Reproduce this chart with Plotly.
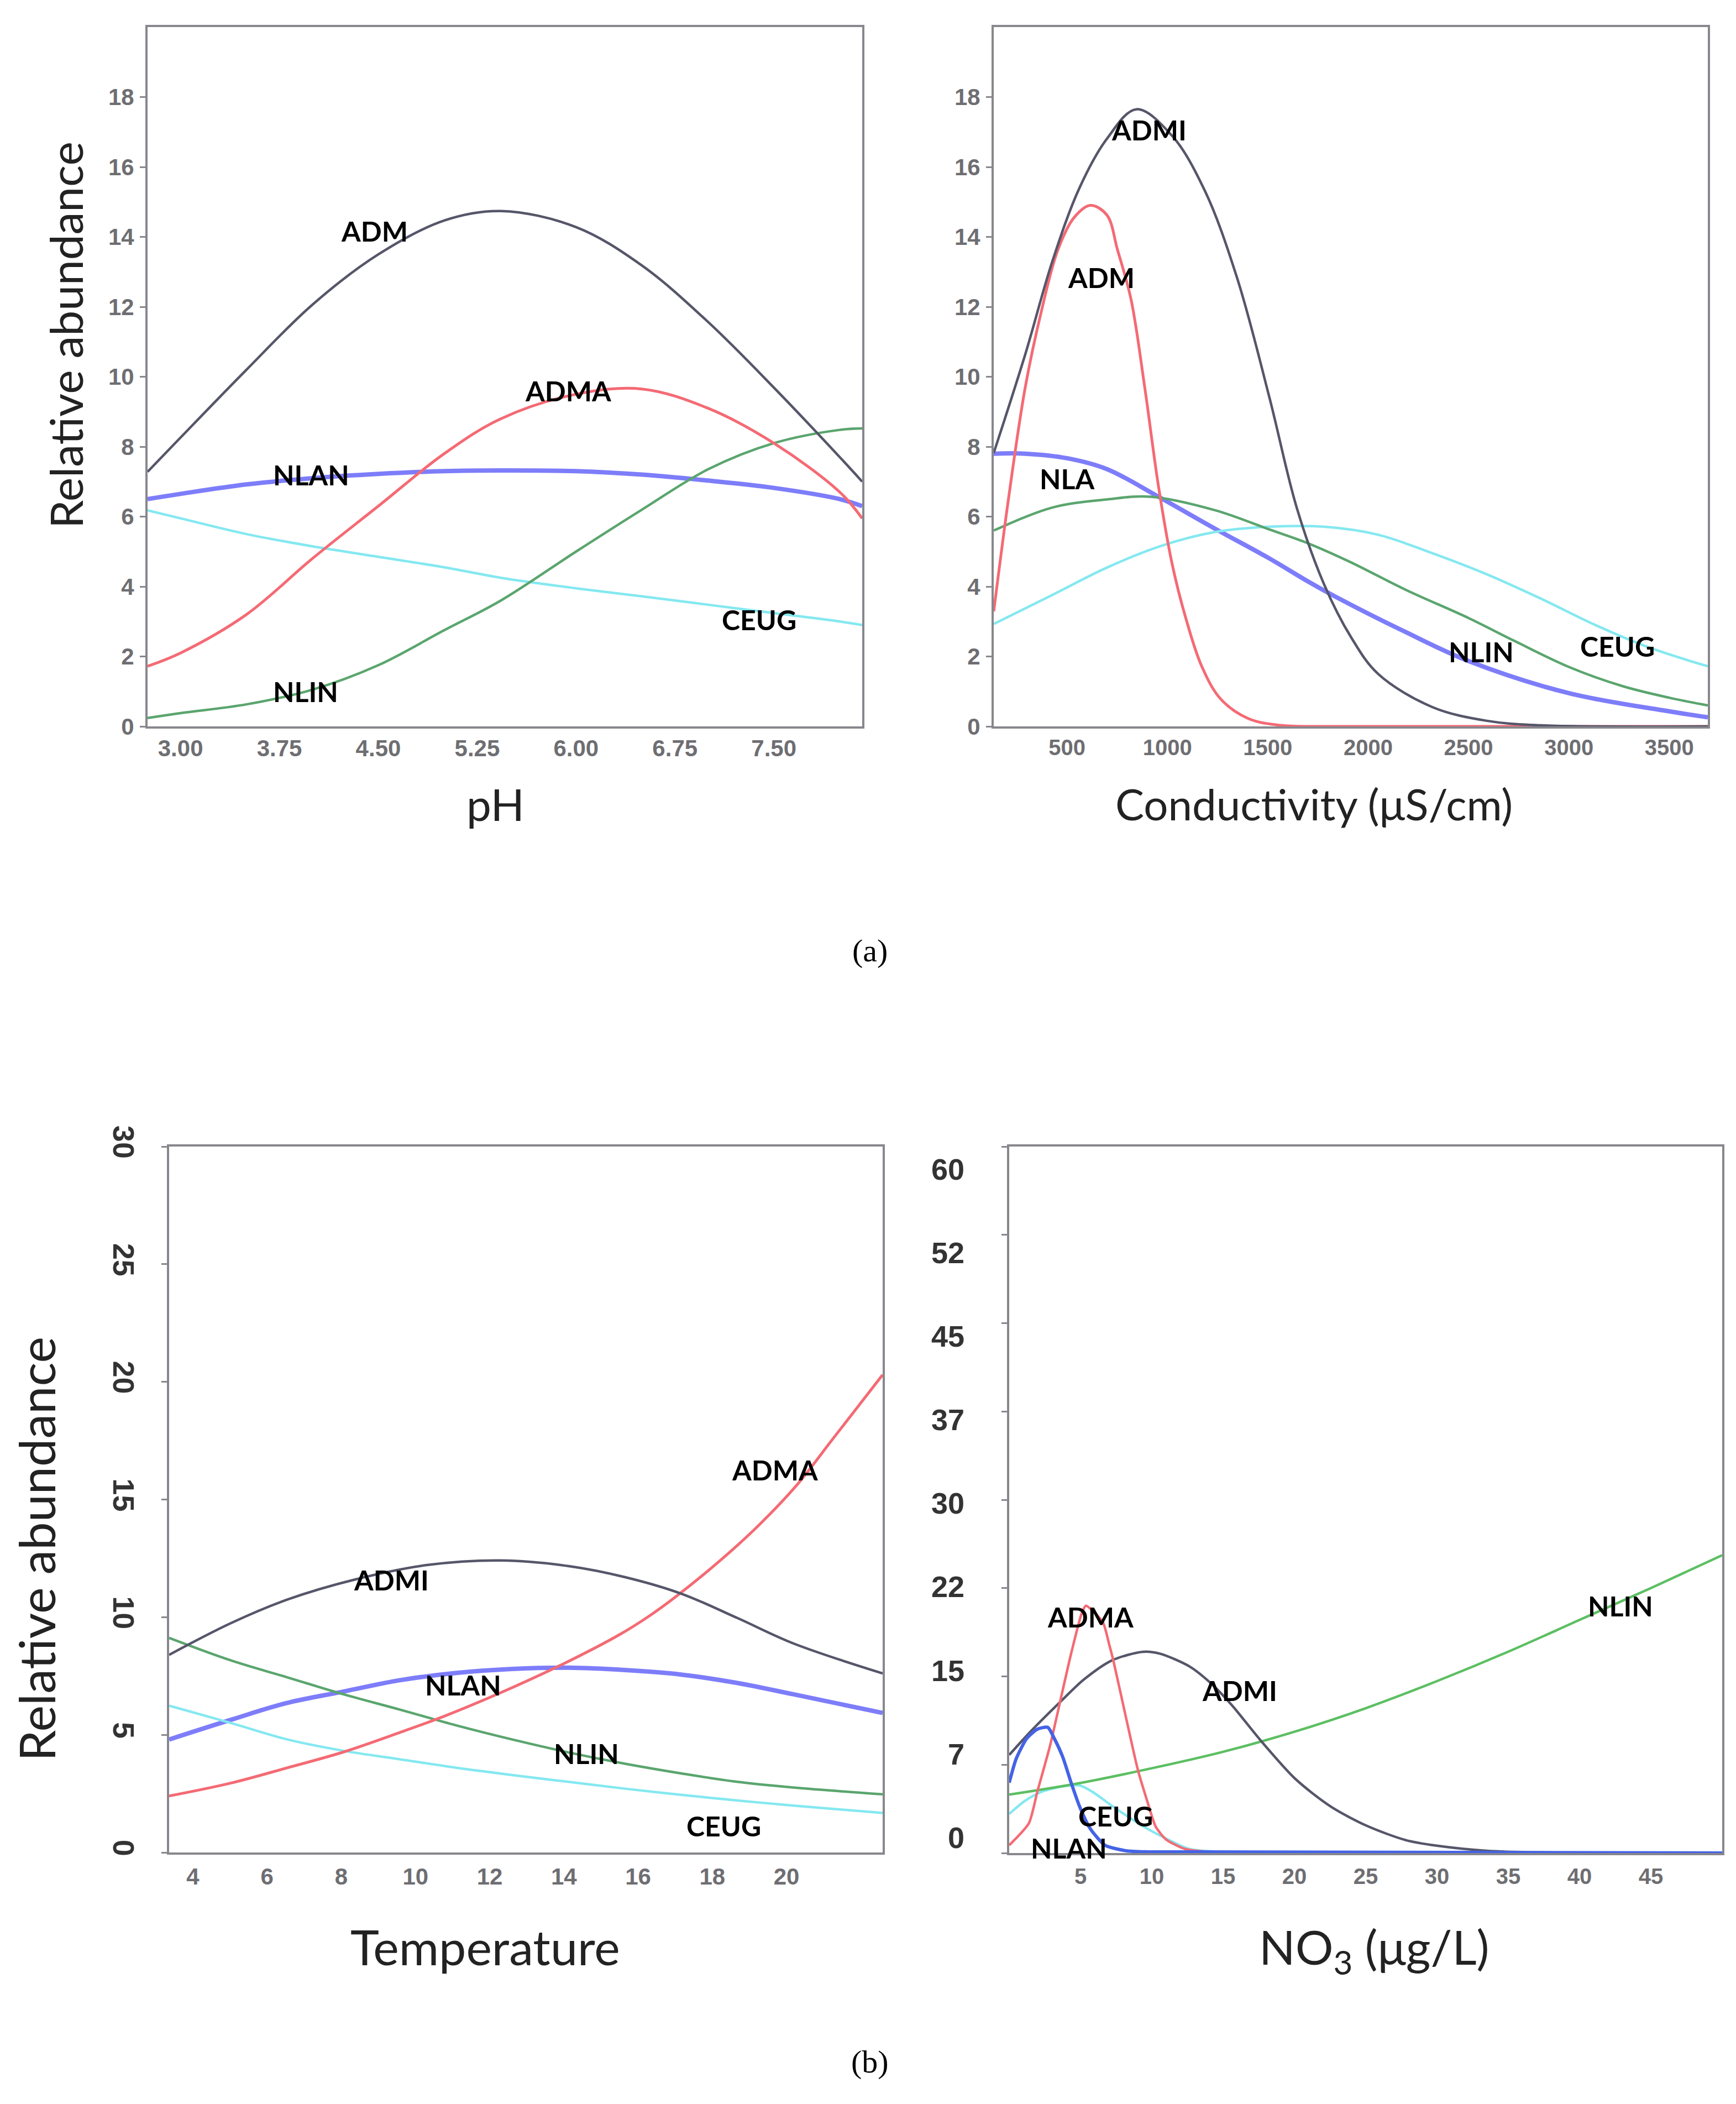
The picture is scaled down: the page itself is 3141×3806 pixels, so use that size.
import plotly.graph_objects as go

W, H = 3141, 3806

# ======================= DATA =======================
# ---- (a) left: pH ----
ph_x    = [2.75, 3.0, 3.5, 4.0, 4.5, 5.0, 5.43, 6.0, 6.5, 7.0, 7.5, 8.0, 8.17]
ph_adm  = [7.28, 8.26, 10.2, 12.06, 13.5, 14.47, 14.74, 14.28, 13.18, 11.57, 9.69, 7.7, 7.0]
ph_adma = [1.72, 2.1, 3.2, 4.8, 6.3, 7.8, 8.8, 9.5, 9.65, 9.1, 8.1, 6.7, 5.95]
ph_nlan = [6.5, 6.65, 6.92, 7.1, 7.22, 7.3, 7.32, 7.3, 7.2, 7.03, 6.82, 6.5, 6.3]
ph_ceug = [6.18, 5.95, 5.5, 5.15, 4.85, 4.55, 4.25, 3.95, 3.72, 3.48, 3.24, 3.0, 2.9]
ph_nlin = [0.24, 0.38, 0.63, 1.05, 1.75, 2.75, 3.6, 5.0, 6.2, 7.35, 8.1, 8.48, 8.52]

# ---- (a) right: conductivity ----
cond_admi_x = [135, 292, 427, 562, 698, 846, 1022, 1185, 1347, 1509, 1644, 1780, 1915, 2050, 2321, 2591, 2862, 3692]
cond_admi   = [7.82, 10.64, 13.3, 15.4, 16.8, 17.65, 16.9, 15.34, 12.83, 9.39, 6.26, 4.07, 2.55, 1.5, 0.55, 0.16, 0.03, 0.0]
cond_adm_x  = [135, 210, 292, 373, 454, 535, 616, 698, 752, 819, 887, 955, 1022, 1090, 1171, 1266, 1401, 1563, 1780, 3692]
cond_adm    = [3.29, 6.57, 9.7, 11.89, 13.62, 14.55, 14.9, 14.63, 13.62, 12.21, 9.7, 6.89, 4.69, 3.13, 1.72, 0.78, 0.23, 0.03, 0.0, 0.0]
cond_nla_x  = [135, 292, 500, 698, 955, 1239, 1509, 1699, 1834, 2186, 2500, 3000, 3500, 3692]
cond_nla    = [7.8, 7.8, 7.67, 7.36, 6.57, 5.65, 4.8, 4.15, 3.72, 2.7, 1.87, 0.95, 0.43, 0.26]
cond_nlin_x = [135, 427, 698, 914, 1239, 1509, 1699, 1915, 2186, 2500, 2727, 3000, 3268, 3500, 3692]
cond_nlin   = [5.6, 6.26, 6.49, 6.57, 6.18, 5.63, 5.24, 4.69, 3.91, 3.1, 2.45, 1.7, 1.15, 0.82, 0.6]
cond_ceug_x = [135, 427, 698, 968, 1239, 1509, 1780, 2050, 2321, 2591, 2862, 3132, 3403, 3692]
cond_ceug   = [2.93, 3.76, 4.54, 5.16, 5.56, 5.71, 5.71, 5.48, 4.95, 4.35, 3.65, 2.9, 2.25, 1.72]

# ---- (b) left: temperature ----
temp_x      = [3.36, 5.03, 6.55, 8.06, 9.58, 11.10, 12.61, 14.13, 15.65, 17.16, 18.68, 20.19, 22.59]
temp_nlan   = [4.8, 5.64, 6.36, 6.84, 7.32, 7.63, 7.8, 7.85, 7.75, 7.56, 7.2, 6.72, 5.93]
temp_nlin   = [9.12, 8.16, 7.44, 6.72, 6.07, 5.4, 4.8, 4.25, 3.77, 3.36, 3.0, 2.76, 2.47]
temp_ceug   = [6.24, 5.5, 4.8, 4.32, 3.96, 3.6, 3.29, 3.0, 2.71, 2.45, 2.21, 1.99, 1.68]
temp_admi_x = [3.36, 5.03, 6.55, 8.37, 10.34, 12.31, 14.13, 15.65, 17.16, 18.68, 20.19, 22.59]
temp_admi   = [8.4, 9.75, 10.75, 11.6, 12.22, 12.41, 12.17, 11.7, 11.0, 9.96, 8.88, 7.61]
temp_adma_x = [3.36, 5.03, 6.55, 8.06, 9.58, 10.79, 12.31, 13.9, 15.49, 16.3, 17.04, 18.28, 19.28, 20.27, 21.26, 22.59]
temp_adma   = [2.4, 2.95, 3.6, 4.27, 5.1, 5.8, 6.8, 7.95, 9.25, 10.05, 10.9, 12.5, 13.95, 15.6, 17.6, 20.3]

# ---- (b) right: NO3 ----
no3_adma_x = [0.0, 1.38, 1.97, 2.86, 3.6, 4.34, 5.09, 5.38, 6.57, 7.01, 7.31, 8.2, 9.02, 9.68, 10.28, 11.02, 12.35, 14.13, 50.0]
no3_adma   = [0.66, 2.53, 5.2, 9.1, 13.02, 16.93, 20.38, 21.0, 19.59, 17.72, 16.31, 11.45, 7.07, 4.41, 2.22, 1.13, 0.34, 0.1, 0.0]
no3_admi_x = [0.0, 1.53, 3.6, 5.24, 7.24, 9.39, 10.57, 12.65, 14.13, 15.62, 17.62, 20.07, 22.56, 25.1, 27.8, 30.0, 33.5, 37.3, 50.0]
no3_admi   = [8.33, 10.36, 12.86, 14.74, 16.38, 17.09, 16.93, 15.84, 14.43, 12.55, 9.58, 6.29, 3.94, 2.3, 1.1, 0.62, 0.19, 0.05, 0.0]
no3_nlin_x = [0.0, 5.0, 10.0, 15.0, 20.0, 25.0, 30.0, 35.0, 40.0, 45.0, 50.0]
no3_nlin   = [4.96, 5.95, 7.2, 8.6, 10.3, 12.3, 14.6, 17.1, 19.8, 22.5, 25.29]
no3_nlan_x = [0.0, 0.49, 1.23, 1.97, 2.71, 3.16, 3.75, 4.34, 4.94, 5.68, 6.72, 8.2, 9.68, 50.0]
no3_nlan   = [5.98, 8.01, 9.73, 10.52, 10.67, 9.73, 8.17, 5.98, 3.94, 2.07, 0.66, 0.19, 0.1, 0.0]
no3_ceug_x = [0.0, 1.08, 2.27, 3.75, 4.94, 5.83, 7.46, 9.68, 11.17, 12.65, 14.88, 50.0]
no3_ceug   = [3.32, 4.41, 5.2, 5.66, 5.74, 5.2, 3.79, 2.07, 1.13, 0.34, 0.1, 0.0]

# ---- ticks ----
ph_ticks       = [3.0, 3.75, 4.5, 5.25, 6.0, 6.75, 7.5]
ph_ticktext    = ["3.00", "3.75", "4.50", "5.25", "6.00", "6.75", "7.50"]
abund_a_ticks  = [0, 2, 4, 6, 8, 10, 12, 14, 16, 18]
cond_ticks     = [500, 1000, 1500, 2000, 2500, 3000, 3500]
temp_ticks     = [4, 6, 8, 10, 12, 14, 16, 18, 20]
temp_yticks    = [0, 5, 10, 15, 20, 25, 30]
no3_xticks     = [5, 10, 15, 20, 25, 30, 35, 40, 45]
no3_yticks     = [0, 7.5, 15, 22.5, 30, 37.5, 45, 52.5, 60]
no3_yticktext  = ["0", "7", "15", "22", "30", "37", "45", "52", "60"]

# ---- curve labels: (text, x, y) ----
labels_ph   = [("ADM", 4.47, 14.16), ("ADMA", 5.94, 9.59), ("NLAN", 3.99, 7.2), ("CEUG", 7.39, 3.05), ("NLIN", 3.95, 0.99)]
labels_cond = [("ADMI", 908, 17.06), ("ADM", 670, 12.83), ("NLA", 500, 7.09), ("NLIN", 2564, 2.14), ("CEUG", 3241, 2.3)]
labels_temp = [("ADMA", 19.69, 16.25), ("ADMI", 9.35, 11.59), ("NLAN", 11.29, 7.13), ("NLIN", 14.61, 4.2), ("CEUG", 18.31, 1.13)]
labels_no3  = [("ADMA", 5.68, 20.06), ("ADMI", 16.16, 13.8), ("NLIN", 42.88, 20.98), ("CEUG", 7.46, 3.16), ("NLAN", 4.2, 0.42)]

# ======================= STYLE =======================
GRAY, RED, BLUE, CYAN, GREEN = "#56566a", "#f46a74", "#7d7dfa", "#84e8f0", "#5aa56e"
BLUE4, GREEN4 = "#4463e6", "#5cbf62"
FRAME = "#87878d"
TICKFONT = dict(family="Liberation Sans, Arial, sans-serif", size=42, color="#6e6e72", weight="bold")
LABELFONT = dict(family="Lato, Open Sans, sans-serif", size=50, color="#000000", weight="bold")
TITLEFONT = "Lato, Open Sans, sans-serif"

fig = go.Figure()

def add(xa, ya, x, y, color, width, smoothing=1.0):
    fig.add_trace(go.Scatter(x=x, y=y, xaxis=xa, yaxis=ya, mode="lines",
                             line=dict(color=color, width=width, shape="spline", smoothing=smoothing),
                             hoverinfo="skip", showlegend=False))

# panel 1
add("x", "y", ph_x, ph_nlan, BLUE, 8)
add("x", "y", ph_x, ph_ceug, CYAN, 4.5)
add("x", "y", ph_x, ph_nlin, GREEN, 4.5)
add("x", "y", ph_x, ph_adma, RED, 5)
add("x", "y", ph_x, ph_adm, GRAY, 4.5)
# panel 2
add("x2", "y2", cond_nla_x, cond_nla, BLUE, 8)
add("x2", "y2", cond_ceug_x, cond_ceug, CYAN, 4.5)
add("x2", "y2", cond_nlin_x, cond_nlin, GREEN, 4.5)
add("x2", "y2", cond_adm_x, cond_adm, RED, 5)
add("x2", "y2", cond_admi_x, cond_admi, GRAY, 4.5)
# panel 3
add("x3", "y3", temp_x, temp_nlan, BLUE, 8)
add("x3", "y3", temp_x, temp_ceug, CYAN, 4.5)
add("x3", "y3", temp_x, temp_nlin, GREEN, 4.5)
add("x3", "y3", temp_adma_x, temp_adma, RED, 5)
add("x3", "y3", temp_admi_x, temp_admi, GRAY, 4.5)
# panel 4
add("x4", "y4", no3_ceug_x, no3_ceug, CYAN, 4.5, 0.8)
add("x4", "y4", no3_nlin_x, no3_nlin, GREEN4, 4.5)
add("x4", "y4", no3_admi_x, no3_admi, GRAY, 4.5, 0.8)
add("x4", "y4", no3_adma_x, no3_adma, RED, 4.5, 0.6)
add("x4", "y4", no3_nlan_x, no3_nlan, BLUE4, 6, 0.6)

def dom_x(a, b):
    return [a / W, b / W]

def dom_y(top, bottom):
    return [1 - bottom / H, 1 - top / H]

base = dict(showline=True, mirror=True, linecolor=FRAME, linewidth=4,
            showgrid=False, zeroline=False, fixedrange=True, automargin=False)

layout = dict(
    width=W, height=H, autosize=False,
    margin=dict(l=0, r=0, t=0, b=0, pad=0, autoexpand=False),
    paper_bgcolor="white", plot_bgcolor="white",
    showlegend=False,
)

# panel 1 axes
layout["xaxis"] = dict(base, domain=dom_x(259, 1552), anchor="y", range=[2.75, 8.17],
                       tickvals=ph_ticks, ticktext=ph_ticktext, ticks="", tickfont=TICKFONT,
                       ticklabelstandoff=0)
layout["yaxis"] = dict(base, domain=dom_y(41, 1306), anchor="x", range=[0, 20],
                       tickvals=abund_a_ticks, ticks="outside", ticklen=10, tickwidth=3,
                       tickcolor=FRAME, tickfont=TICKFONT, ticklabelstandoff=2)
# panel 2 axes
layout["xaxis2"] = dict(base, domain=dom_x(1790, 3082), anchor="y2", range=[135, 3692],
                        tickvals=cond_ticks, ticks="", tickfont=dict(TICKFONT, size=40),
                        ticklabelstandoff=0)
layout["yaxis2"] = dict(base, domain=dom_y(41, 1306), anchor="x2", range=[0, 20],
                        tickvals=abund_a_ticks, ticks="outside", ticklen=10, tickwidth=3,
                        tickcolor=FRAME, tickfont=TICKFONT, ticklabelstandoff=2)
# panel 3 axes
layout["xaxis3"] = dict(base, domain=dom_x(298, 1589), anchor="y3", range=[3.36, 22.59],
                        tickvals=temp_ticks, ticks="", tickfont=TICKFONT, ticklabelstandoff=4)
layout["yaxis3"] = dict(base, domain=dom_y(2066, 3343), anchor="x3", range=[0, 30],
                        tickvals=temp_yticks, ticks="outside", ticklen=10, tickwidth=3,
                        tickcolor=FRAME, tickangle=90,
                        tickfont=dict(family="Liberation Sans Narrow, Liberation Sans, Arial", size=54,
                                      color="#333333", weight="bold"),
                        ticklabelstandoff=22)
# panel 4 axes
layout["xaxis4"] = dict(base, domain=dom_x(1818, 3108), anchor="y4", range=[0, 50],
                        tickvals=no3_xticks, ticks="", tickfont=dict(TICKFONT, size=40),
                        ticklabelstandoff=4)
layout["yaxis4"] = dict(base, domain=dom_y(2066, 3344), anchor="x4", range=[0, 60],
                        tickvals=no3_yticks, ticks="outside", ticklen=10, tickwidth=3,
                        tickcolor=FRAME, showticklabels=False)
layout["yaxis5"] = dict(overlaying="y4", anchor="x4", side="left", range=[-1.39, 62.03],
                        tickvals=no3_yticks, ticktext=no3_yticktext, ticks="",
                        showline=False, showgrid=False, zeroline=False, fixedrange=True,
                        automargin=False,
                        tickfont=dict(family="Liberation Sans, Arial", size=54, color="#333333", weight="bold"),
                        ticklabelstandoff=80)

fig.update_layout(**layout)
# empty trace bound to the label axis so that it is drawn
fig.add_trace(go.Scatter(x=[None], y=[None], xaxis="x4", yaxis="y5", mode="lines",
                         showlegend=False, hoverinfo="skip"))

ann = []
for lbls, xr, yr in [(labels_ph, "x", "y"), (labels_cond, "x2", "y2"),
                     (labels_temp, "x3", "y3"), (labels_no3, "x4", "y4")]:
    for t, lx, ly in lbls:
        ann.append(dict(text=t, x=lx, y=ly, xref=xr, yref=yr, showarrow=False,
                        font=LABELFONT, xanchor="center", yanchor="middle"))

def title(text, px, py, size, angle=0, family=TITLEFONT, color="#222222"):
    ann.append(dict(text=text, x=px / W, y=1 - py / H, xref="paper", yref="paper",
                    showarrow=False, textangle=angle, xanchor="center", yanchor="middle",
                    font=dict(family=family, size=size, color=color)))

title("Relative abundance", 110, 598, 82, -90)
title("pH", 888, 1446, 80)
title("Conductivity (μS/cm)", 2369, 1446, 78)
title("Relative abundance", 57, 2794, 90, -90)
title("Temperature", 870, 3513, 88)
title("NO<sub>3</sub> (μg/L)", 2478, 3519, 86)
title("(a)", 1566, 1711, 58, 0, "Liberation Serif, DejaVu Serif, serif", "#000000")
title("(b)", 1566, 3721, 58, 0, "Liberation Serif, DejaVu Serif, serif", "#000000")

fig.update_layout(annotations=ann)
fig.write_html("out.html")
